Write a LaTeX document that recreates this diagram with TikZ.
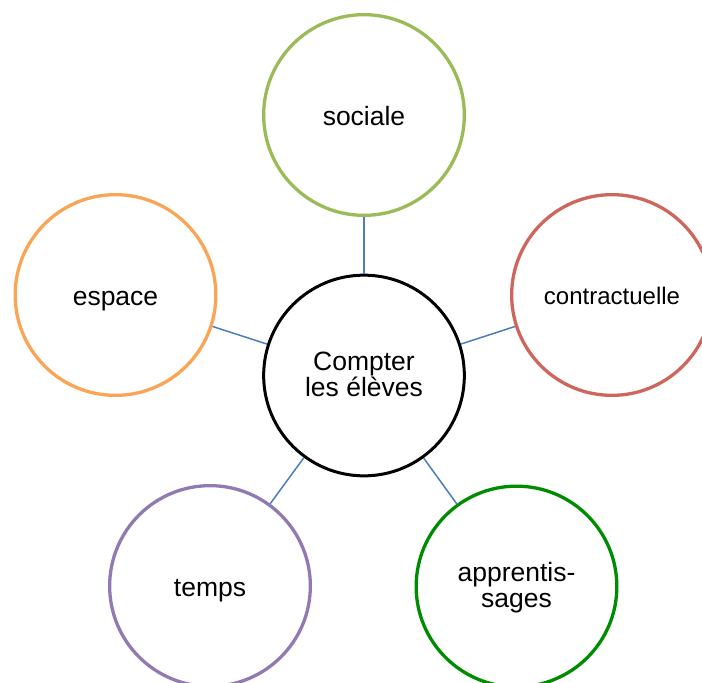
\documentclass[tikz,border=0pt]{standalone}
\usepackage{fontspec}
\setmainfont{Liberation Sans}
\definecolor{cSoc}{RGB}{155,187,89}
\definecolor{cCon}{RGB}{205,102,93}
\definecolor{cEsp}{RGB}{250,165,85}
\definecolor{cTem}{RGB}{145,122,178}
\definecolor{cApp}{RGB}{0,140,0}
\definecolor{cLink}{RGB}{74,126,187}
\begin{document}
\begin{tikzpicture}[x=1pt,y=-1pt,
  bubble/.style={circle,draw,line width=3.3pt,minimum size=200.7pt,inner sep=0pt,
    align=center,font=\fontsize{26.5}{25.5}\selectfont,fill=white,
    text height=20pt,text depth=0pt},
  twoline/.style={text height=41pt,text depth=0pt},
  link/.style={draw=cLink,line width=1.5pt}]
\useasboundingbox (0,0) rectangle (702,683);
\node[bubble,twoline,draw=black,line width=3pt] (c) at (364,375.5) {Compter\\les élèves};
\node[bubble,draw=cSoc] (s) at (364,115) {sociale};
\node[bubble,draw=cCon,font=\fontsize{24}{25.5}\selectfont,text height=18pt] (k) at (612,295) {contractuelle};
\node[bubble,draw=cEsp] (e) at (115.5,295) {espace};
\node[bubble,draw=cTem] (t) at (210,586) {temps};
\node[bubble,twoline,draw=cApp] (a) at (516.5,586.5) {apprentis-\\sages};
\draw[link] (c) -- (s);
\draw[link] (c) -- (k);
\draw[link] (c) -- (e);
\draw[link] (c) -- (t);
\draw[link] (c) -- (a);
\end{tikzpicture}
\end{document}
